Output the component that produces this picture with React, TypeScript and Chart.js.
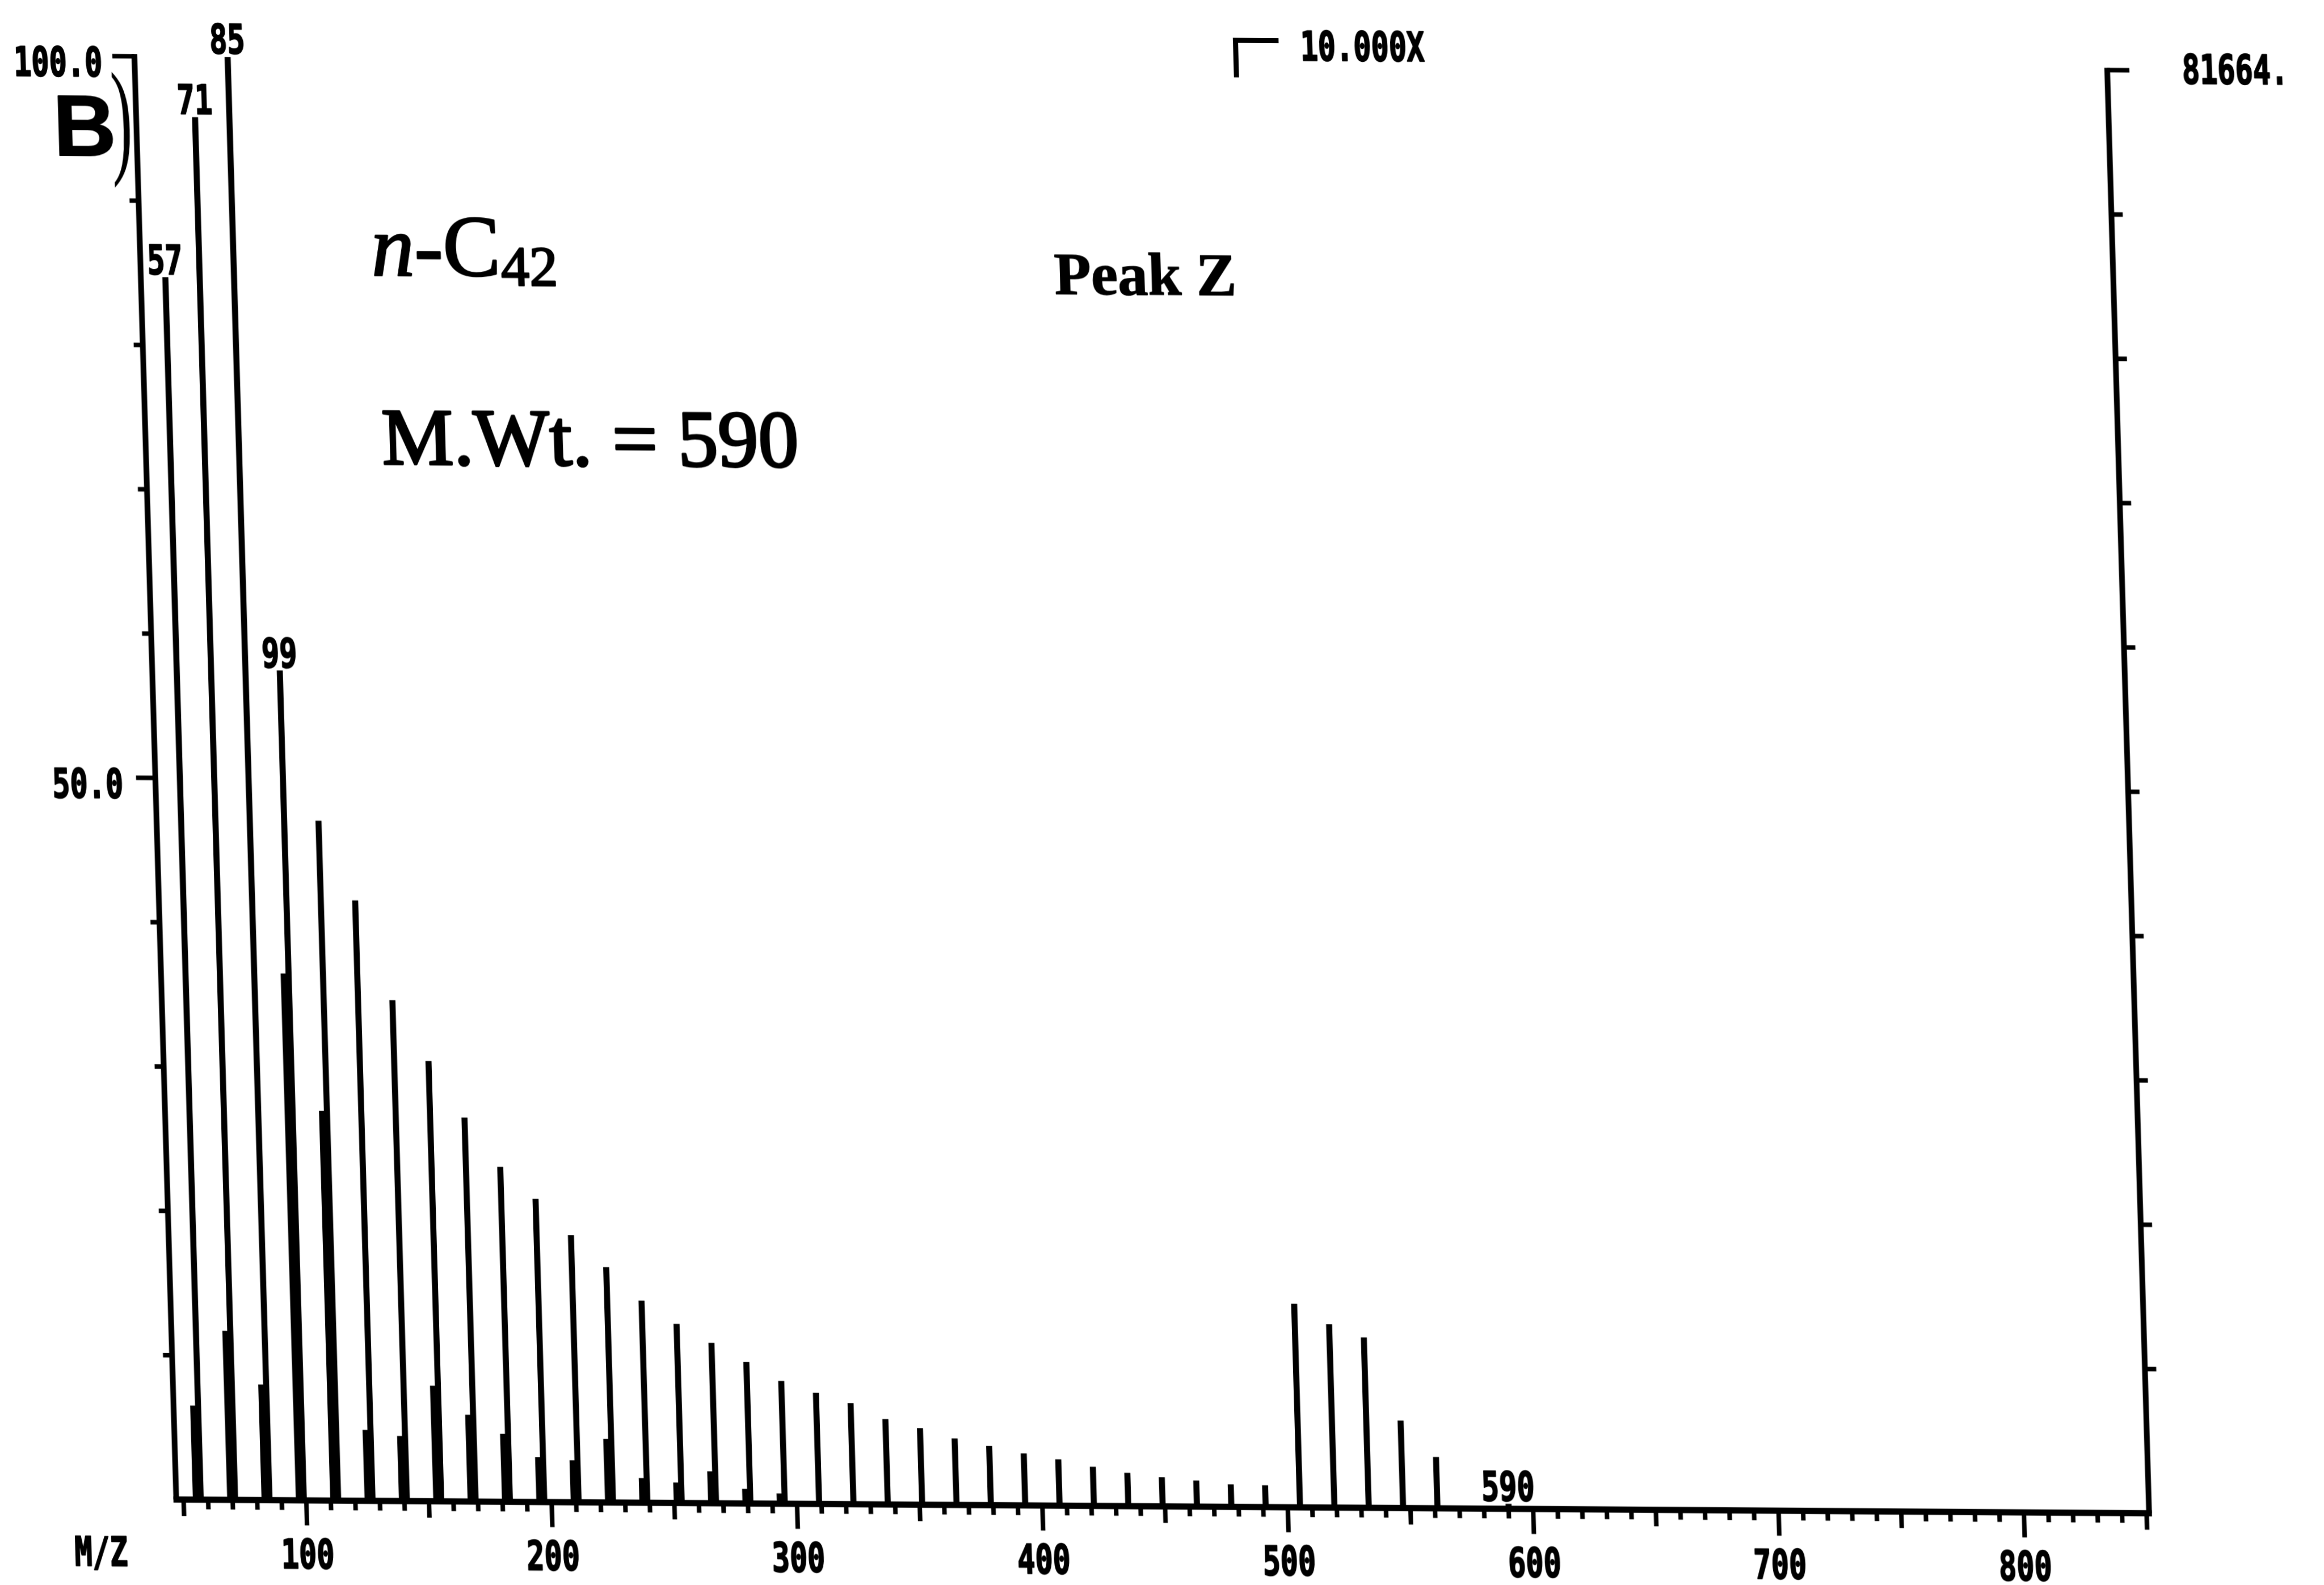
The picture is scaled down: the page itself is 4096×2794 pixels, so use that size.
import { useEffect, useRef } from "react";
import { Chart, registerables } from "chart.js";

Chart.register(...registerables);

// CnH2n+1 fragment ions of n-C42 (m/z) and relative abundance (% of base peak m/z 85)
const fragmentMz = [
  57, 71, 85, 99, 113, 127, 141, 155, 169, 183, 197, 211, 225, 239, 253, 267, 281, 295, 309,
  323, 337, 351, 365, 379, 393, 407, 421, 435, 449, 463, 477, 491, 505, 519, 533, 547, 561, 590,
];
const fragmentAbundance = [
  84.7, 95.8, 100, 57.5, 47.1, 41.6, 34.7, 30.5, 26.6, 23.2, 21.0, 18.5, 16.3, 14.0, 12.4, 11.1,
  9.8, 8.5, 7.7, 7.0, 5.9, 5.3, 4.6, 4.1, 3.6, 3.2, 2.7, 2.3, 2.0, 1.8, 1.55, 1.5, 1.41, 1.27,
  1.18, 0.605, 0.355, 0.033,
];

// companion CnH2n-1 ions beside each cluster
const companionMz = [55, 69, 83, 97, 111, 125, 139, 153, 167, 181, 195, 209, 223, 237, 251, 265, 279, 293];
const companionAbundance = [6.5, 11.7, 8.0, 36.5, 27.0, 4.9, 4.5, 8.0, 6.0, 4.7, 3.1, 2.9, 4.4, 1.7, 1.4, 2.2, 1.0, 0.7];

// the trace is plotted ten times larger from this m/z on
const magnifyFromMz = 496;
const magnifyFactor = 10;
const magnifyText = "10.000X";

// ion count of the base peak
const baseIonCount = "81664.";

// peaks that carry their m/z above them
const labelledMz = [57, 71, 85, 99, 590];

// axis labels
const yLabelValues = [100, 50];
const yLabelTexts = ["100.0", "50.0"];
const xLabelValues = [100, 200, 300, 400, 500, 600, 700, 800];
const xAxisName = "M/Z";

const MZ_MIN = 47;
const MZ_MAX = 851;

const W = 4096;
const H = 2794;
const PLOT_LEFT = 310.6;
const PLOT_RIGHT = 3787.7;
const PLOT_TOP = 99.3;
const PLOT_BOTTOM = 2643.3;

const INK = "#000";
const MONO_SX = 0.72;
const MONO_FONT = 'bold 72px "DejaVu Sans Mono"';

function shown(mz: number, abundance: number): number {
  return mz >= magnifyFromMz ? abundance * magnifyFactor : abundance;
}

function monoText(
  ctx: CanvasRenderingContext2D,
  text: string,
  x: number,
  y: number,
  align: "left" | "center" | "right"
) {
  ctx.save();
  ctx.font = MONO_FONT;
  ctx.textAlign = "left";
  ctx.textBaseline = "alphabetic";
  const w = ctx.measureText(text).width * MONO_SX;
  const left = align === "left" ? x : align === "center" ? x - w / 2 : x - w;
  ctx.translate(left, y);
  ctx.scale(MONO_SX, 1);
  ctx.fillStyle = INK;
  ctx.strokeStyle = INK;
  ctx.lineWidth = 2.5;
  ctx.lineJoin = "round";
  ctx.fillText(text, 0, 0);
  ctx.strokeText(text, 0, 0);
  ctx.restore();
}

// heavier serif lettering
function inkText(ctx: CanvasRenderingContext2D, text: string, x: number, y: number, weight: number) {
  ctx.fillText(text, x, y);
  if (weight > 0) {
    ctx.lineWidth = weight;
    ctx.strokeText(text, x, y);
  }
}

function line(ctx: CanvasRenderingContext2D, x1: number, y1: number, x2: number, y2: number) {
  ctx.beginPath();
  ctx.moveTo(x1, y1);
  ctx.lineTo(x2, y2);
  ctx.stroke();
}

const plotterPlugin = {
  id: "plotterFrame",
  beforeDatasetsDraw(chart: any) {
    const ctx: CanvasRenderingContext2D = chart.ctx;
    const xs = chart.scales.x;
    const ys = chart.scales.y;
    const left = xs.getPixelForValue(MZ_MIN);
    const right = xs.getPixelForValue(MZ_MAX);
    const y0 = ys.getPixelForValue(0);
    const y100 = ys.getPixelForValue(100);

    ctx.save();
    ctx.strokeStyle = INK;
    ctx.lineCap = "butt";

    // baseline and the two intensity axes
    ctx.lineWidth = 11;
    line(ctx, left - 5, y0, right + 5, y0);
    ctx.lineWidth = 10;
    line(ctx, left, y0, left, y100 - 4);
    line(ctx, right, y0, right, y100 - 4);

    // m/z ticks hanging below the baseline
    ctx.lineWidth = 8;
    for (let m = 50; m <= 850; m += 10) {
      const len = m % 100 === 0 ? 44 : m % 50 === 0 ? 29 : 17;
      const px = xs.getPixelForValue(m);
      line(ctx, px, y0, px, y0 + len);
    }

    // intensity ticks, outward on both sides
    for (let v = 10; v <= 100; v += 10) {
      const py = ys.getPixelForValue(v);
      const lenL = v === 100 ? 39 : v === 50 ? 34 : 16;
      const lenR = v === 100 ? 39 : 20;
      ctx.lineWidth = 8;
      line(ctx, left - lenL, py, left, py);
      line(ctx, right, py, right + lenR, py);
    }

    // magnification marker
    const mx = xs.getPixelForValue(magnifyFromMz);
    ctx.lineWidth = 9;
    ctx.beginPath();
    ctx.moveTo(mx, 122.8);
    ctx.lineTo(mx, 57.5);
    ctx.lineTo(mx + 76, 57.5);
    ctx.stroke();
    ctx.restore();
  },
  afterDatasetsDraw(chart: any) {
    const ctx: CanvasRenderingContext2D = chart.ctx;
    const xs = chart.scales.x;
    const ys = chart.scales.y;
    const left = xs.getPixelForValue(MZ_MIN);
    const right = xs.getPixelForValue(MZ_MAX);
    const y0 = ys.getPixelForValue(0);

    // intensity labels
    yLabelValues.forEach((v, i) => {
      monoText(ctx, yLabelTexts[i], left - 57, ys.getPixelForValue(v) + 36, "right");
    });

    // m/z labels
    xLabelValues.forEach((m) => {
      monoText(ctx, String(m), xs.getPixelForValue(m), y0 + 120, "center");
    });
    monoText(ctx, xAxisName, left - 135, y0 + 118, "center");

    // peak labels
    labelledMz.forEach((m) => {
      const i = fragmentMz.indexOf(m);
      const top = ys.getPixelForValue(shown(m, fragmentAbundance[i]));
      monoText(ctx, String(m), xs.getPixelForValue(m), top - 6, "center");
    });

    // magnification and base-peak count
    monoText(ctx, magnifyText, xs.getPixelForValue(magnifyFromMz) + 114, 91.7, "left");
    monoText(ctx, baseIonCount, right + 132, 121.5, "left");

    // panel letter and compound annotations
    ctx.save();
    ctx.fillStyle = INK;
    ctx.strokeStyle = INK;
    ctx.lineJoin = "round";
    ctx.textAlign = "left";
    ctx.textBaseline = "alphabetic";

    ctx.font = 'bold 153px "Liberation Sans"';
    inkText(ctx, "B", 164, 274.5, 2);

    ctx.save();
    ctx.font = '225px "Liberation Serif"';
    ctx.translate(284.7, 282.8);
    ctx.scale(0.5, 1);
    ctx.textAlign = "center";
    ctx.fillText(")", 0, 0);
    ctx.restore();

    let x = 718;
    const nb = 482;
    ctx.font = 'italic 152px "Liberation Serif"';
    inkText(ctx, "n", x, nb, 3);
    x += ctx.measureText("n").width;
    ctx.font = '152px "Liberation Serif"';
    inkText(ctx, "-C", x, nb, 3);
    x += ctx.measureText("-C").width;
    ctx.font = '100px "Liberation Serif"';
    inkText(ctx, "42", x, nb + 16, 3);

    ctx.font = '142px "Liberation Serif"';
    inkText(ctx, "M.Wt. = 590", 727, 815, 4);

    ctx.font = 'bold 106px "Liberation Serif"';
    inkText(ctx, "Peak Z", 1921, 506.5, 1.5);
    ctx.restore();
  },
};

export default function App() {
  const canvasRef = useRef<HTMLCanvasElement | null>(null);

  useEffect(() => {
    const canvas = canvasRef.current;
    if (!canvas) return;

    const peakBars = fragmentMz.map((m, i) => ({ x: m, y: shown(m, fragmentAbundance[i]) }));
    const companionBars = companionMz.map((m, i) => ({ x: m, y: shown(m, companionAbundance[i]) }));

    const chart = new Chart(canvas, {
      type: "bar",
      data: {
        datasets: [
          {
            label: "CnH2n+1",
            data: peakBars as any,
            backgroundColor: INK,
            borderWidth: 0,
            barThickness: 10,
            grouped: false,
          } as any,
          {
            label: "CnH2n-1",
            data: companionBars as any,
            backgroundColor: INK,
            borderWidth: 0,
            barThickness: 10,
            grouped: false,
          } as any,
        ],
      },
      options: {
        animation: false,
        responsive: false,
        maintainAspectRatio: false,
        devicePixelRatio: 1,
        layout: {
          padding: {
            left: PLOT_LEFT,
            right: W - PLOT_RIGHT,
            top: PLOT_TOP,
            bottom: H - PLOT_BOTTOM,
          },
        },
        plugins: {
          legend: { display: false },
          tooltip: { enabled: false },
        },
        scales: {
          x: { type: "linear", min: MZ_MIN, max: MZ_MAX, offset: false, display: false },
          y: { type: "linear", min: 0, max: 100, display: false },
        },
      } as any,
      plugins: [plotterPlugin],
    });

    return () => chart.destroy();
  }, []);

  return (
    <div
      style={{
        position: "absolute",
        left: 0,
        top: 0,
        width: W,
        height: H,
        overflow: "hidden",
        background: "#fff",
      }}
    >
      <canvas
        ref={canvasRef}
        width={W}
        height={H}
        style={{
          display: "block",
          width: W,
          height: H,
          transformOrigin: `${PLOT_LEFT}px ${PLOT_BOTTOM}px`,
          transform: "matrix(1, 0.007, 0.029, 1, 0, 0)",
        }}
      />
    </div>
  );
}
